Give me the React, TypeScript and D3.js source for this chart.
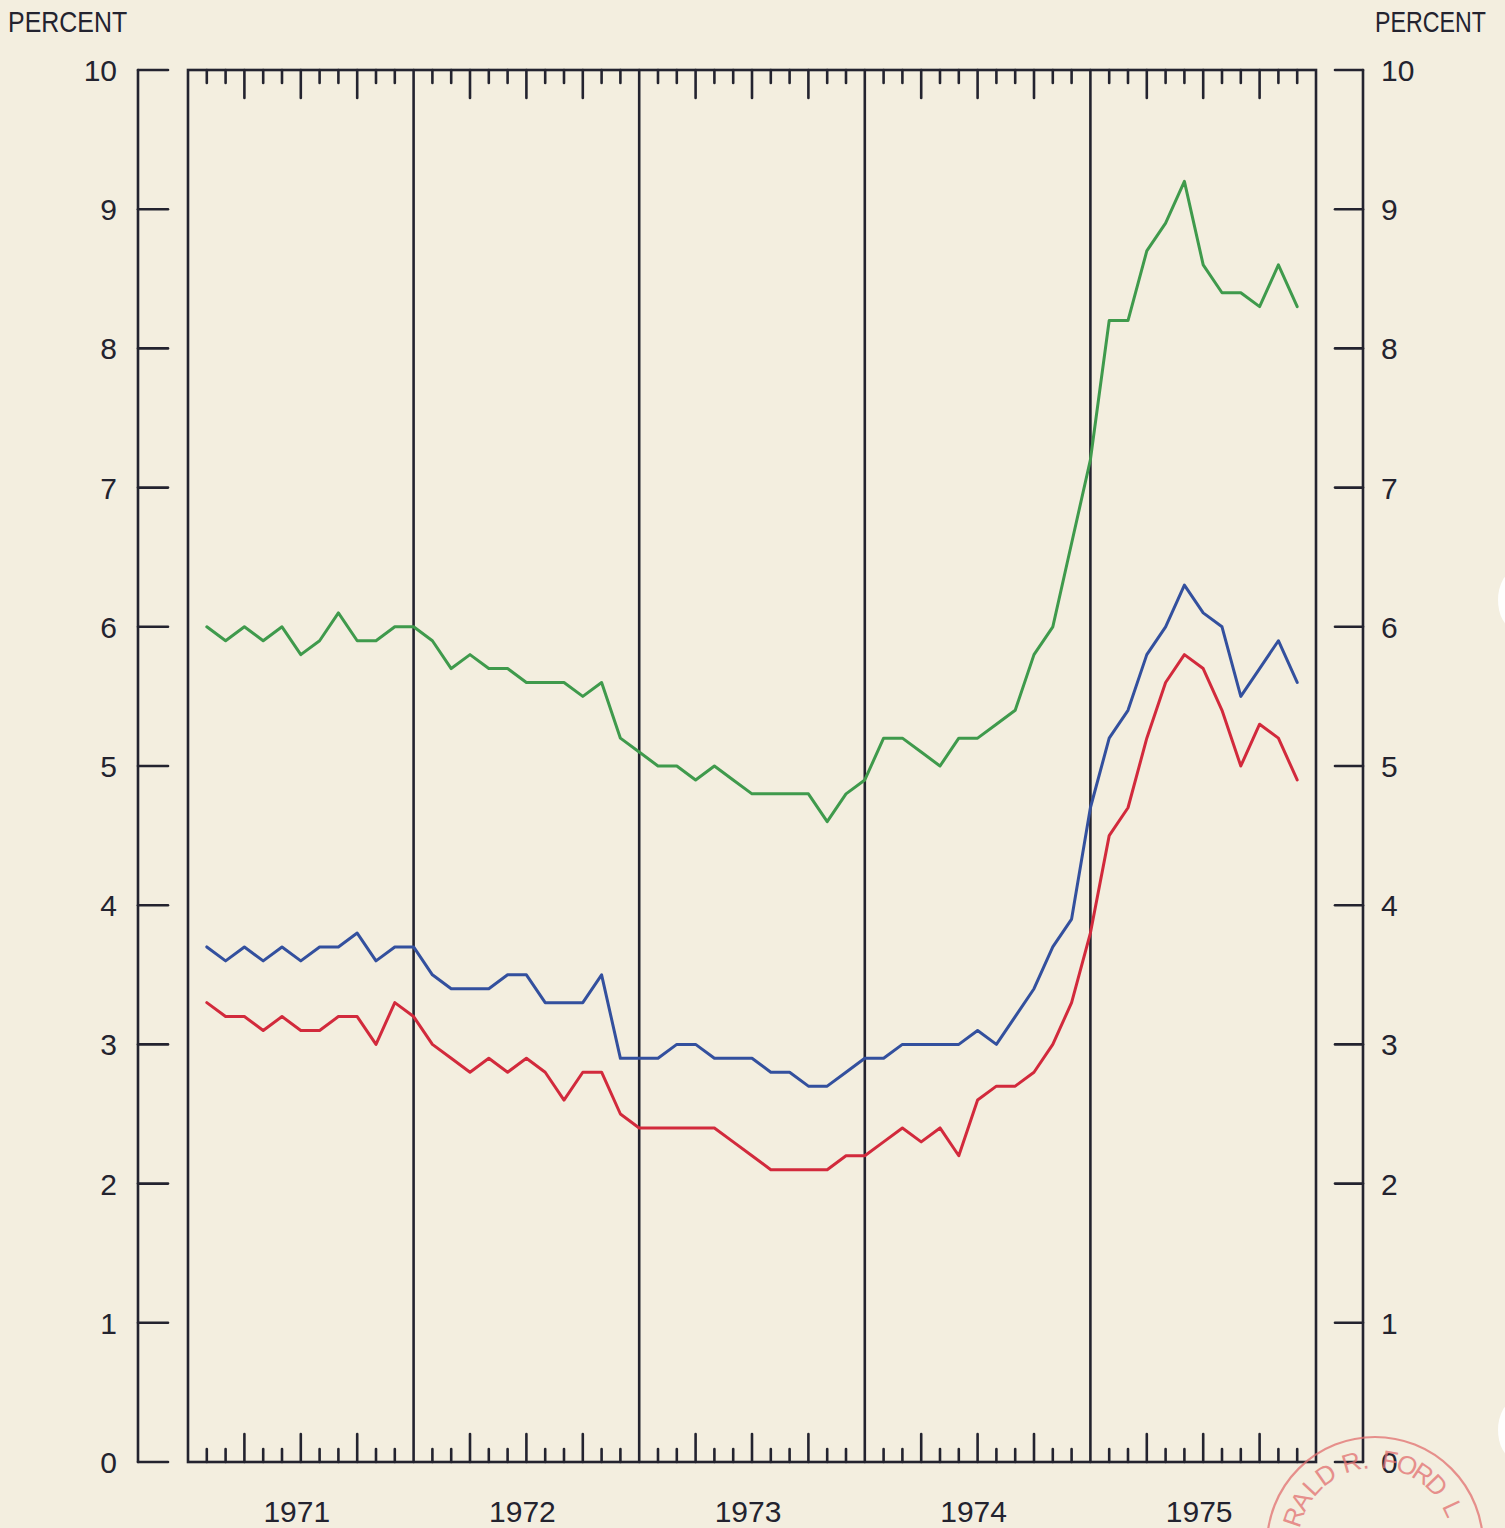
import React from "react";
import * as d3 from "d3";

// Monthly values, Jan 1971 – Nov 1975
const greenSeries: number[] = [
  6.0, 5.9, 6.0, 5.9, 6.0, 5.8, 5.9, 6.1, 5.9, 5.9, 6.0, 6.0,
  5.9, 5.7, 5.8, 5.7, 5.7, 5.6, 5.6, 5.6, 5.5, 5.6, 5.2, 5.1,
  5.0, 5.0, 4.9, 5.0, 4.9, 4.8, 4.8, 4.8, 4.8, 4.6, 4.8, 4.9,
  5.2, 5.2, 5.1, 5.0, 5.2, 5.2, 5.3, 5.4, 5.8, 6.0, 6.6, 7.2,
  8.2, 8.2, 8.7, 8.9, 9.2, 8.6, 8.4, 8.4, 8.3, 8.6, 8.3,
];
const blueSeries: number[] = [
  3.7, 3.6, 3.7, 3.6, 3.7, 3.6, 3.7, 3.7, 3.8, 3.6, 3.7, 3.7,
  3.5, 3.4, 3.4, 3.4, 3.5, 3.5, 3.3, 3.3, 3.3, 3.5, 2.9, 2.9,
  2.9, 3.0, 3.0, 2.9, 2.9, 2.9, 2.8, 2.8, 2.7, 2.7, 2.8, 2.9,
  2.9, 3.0, 3.0, 3.0, 3.0, 3.1, 3.0, 3.2, 3.4, 3.7, 3.9, 4.7,
  5.2, 5.4, 5.8, 6.0, 6.3, 6.1, 6.0, 5.5, 5.7, 5.9, 5.6,
];
const redSeries: number[] = [
  3.3, 3.2, 3.2, 3.1, 3.2, 3.1, 3.1, 3.2, 3.2, 3.0, 3.3, 3.2,
  3.0, 2.9, 2.8, 2.9, 2.8, 2.9, 2.8, 2.6, 2.8, 2.8, 2.5, 2.4,
  2.4, 2.4, 2.4, 2.4, 2.3, 2.2, 2.1, 2.1, 2.1, 2.1, 2.2, 2.2,
  2.3, 2.4, 2.3, 2.4, 2.2, 2.6, 2.7, 2.7, 2.8, 3.0, 3.3, 3.8,
  4.5, 4.7, 5.2, 5.6, 5.8, 5.7, 5.4, 5.0, 5.3, 5.2, 4.9,
];
const years: string[] = ["1971", "1972", "1973", "1974", "1975"];
const yTicks: number[] = [0, 1, 2, 3, 4, 5, 6, 7, 8, 9, 10];
const axisTitle = "PERCENT";
const stampText = "GERALD R. FORD LIBRARY";

const W = 1505;
const H = 1528;
const INK = "#23232f";
const BG = "#f3eedf";
const STAMP = "#e27070";
const FONT = "'Liberation Sans', 'DejaVu Sans', sans-serif";

export default function App() {
  const x = d3.scaleLinear().domain([0, years.length * 12]).range([188, 1316]);
  const y = d3.scaleLinear().domain([0, 10]).range([1462, 70]);
  const line = d3
    .line<number>()
    .x((_, i) => x(i + 1))
    .y((d) => y(d));

  const leftAxisX = 138;
  const rightAxisX = 1363;
  const monthTicks: number[] = d3.range(0, years.length * 12).filter((m) => m % 12 !== 0);

  const series = [
    { data: greenSeries, color: "#3f9a4c" },
    { data: blueSeries, color: "#33509e" },
    { data: redSeries, color: "#d22a3c" },
  ];

  // stamp: letters placed around a circle
  const scx = 1375;
  const scy = 1545;
  const letterR = 86;
  const chars = stampText.split("");
  const widths = chars.map((c) => (c === " " || c === "." ? 7 : 12));
  let acc = 185 + widths[0] / 2;
  const stampLetters = chars.map((c, i) => {
    const ang = acc - widths[i] / 2;
    acc -= widths[i];
    const a = (ang * Math.PI) / 180;
    return {
      c,
      px: scx + letterR * Math.cos(a),
      py: scy - letterR * Math.sin(a),
      rot: 90 - ang,
    };
  });
  const visibleLetters = stampLetters.filter(
    (l) => l.c !== " " && l.py < H - 8 && l.px < W - 8
  );

  return (
    <svg
      width={W}
      height={H}
      style={{ position: "absolute", left: 0, top: 0, background: BG }}
      fontFamily={FONT}
    >
      <rect x={0} y={0} width={W} height={H} fill={BG} />

      {/* axis titles */}
      <text transform="translate(8,32) scale(0.86,1)" fontSize={29} fill={INK}>
        {axisTitle}
      </text>
      <text transform="translate(1375,32) scale(0.8,1)" fontSize={29} fill={INK}>
        {axisTitle}
      </text>

      {/* outer axes */}
      <g stroke={INK} strokeWidth={2.6} strokeLinecap="round">
        <line x1={leftAxisX} x2={leftAxisX} y1={y(0)} y2={y(10)} />
        {yTicks.map((t) => (
          <line key={"lt" + t} x1={leftAxisX} x2={leftAxisX + 30} y1={y(t)} y2={y(t)} />
        ))}
        <line x1={rightAxisX} x2={rightAxisX} y1={y(0)} y2={y(10)} />
        {yTicks.map((t) => (
          <line key={"rt" + t} x1={rightAxisX - 28} x2={rightAxisX} y1={y(t)} y2={y(t)} />
        ))}
      </g>
      {yTicks.map((t) => (
        <text key={"ll" + t} x={117} y={y(t) + 11} textAnchor="end" fontSize={30} fill={INK}>
          {t}
        </text>
      ))}
      {yTicks.map((t) => (
        <text key={"rl" + t} x={1381} y={y(t) + 11} textAnchor="start" fontSize={30} fill={INK}>
          {t}
        </text>
      ))}

      {/* plot frame */}
      <g stroke={INK} strokeWidth={2.6} fill="none" strokeLinecap="round">
        <rect x={x(0)} y={y(10)} width={x(60) - x(0)} height={y(0) - y(10)} />
        {years.slice(1).map((_, i) => (
          <line key={"yl" + i} x1={x((i + 1) * 12)} x2={x((i + 1) * 12)} y1={y(10)} y2={y(0)} />
        ))}
        {monthTicks.map((m) => {
          const len = m % 3 === 0 ? 28 : 13;
          return (
            <g key={"mt" + m}>
              <line x1={x(m)} x2={x(m)} y1={y(10)} y2={y(10) + len} />
              <line x1={x(m)} x2={x(m)} y1={y(0)} y2={y(0) - len} />
            </g>
          );
        })}
      </g>

      {/* year labels */}
      {years.map((yr, i) => (
        <text key={yr} x={x(i * 12 + 6) - 4} y={1522} textAnchor="middle" fontSize={30} fill={INK}>
          {yr}
        </text>
      ))}

      {/* series */}
      {series.map((s, i) => (
        <path
          key={"s" + i}
          d={line(s.data) || ""}
          fill="none"
          stroke={s.color}
          strokeWidth={3}
          strokeLinejoin="round"
          strokeLinecap="round"
        />
      ))}

      {/* library stamp fragment */}
      <g opacity={0.75}>
        <circle cx={scx} cy={scy} r={108} fill="none" stroke={STAMP} strokeWidth={2.2} />
        {visibleLetters.map((l, i) => (
          <text
            key={"st" + i}
            x={0}
            y={0}
            transform={`translate(${l.px},${l.py}) rotate(${l.rot})`}
            textAnchor="middle"
            dominantBaseline="central"
            fontSize={26}
            fill={STAMP}
          >
            {l.c}
          </text>
        ))}
      </g>

      {/* punch holes */}
      <ellipse cx={1514} cy={600} rx={16} ry={28} fill="#ffffff" opacity={0.9} />
      <ellipse cx={1514} cy={1430} rx={16} ry={28} fill="#ffffff" opacity={0.9} />
    </svg>
  );
}
